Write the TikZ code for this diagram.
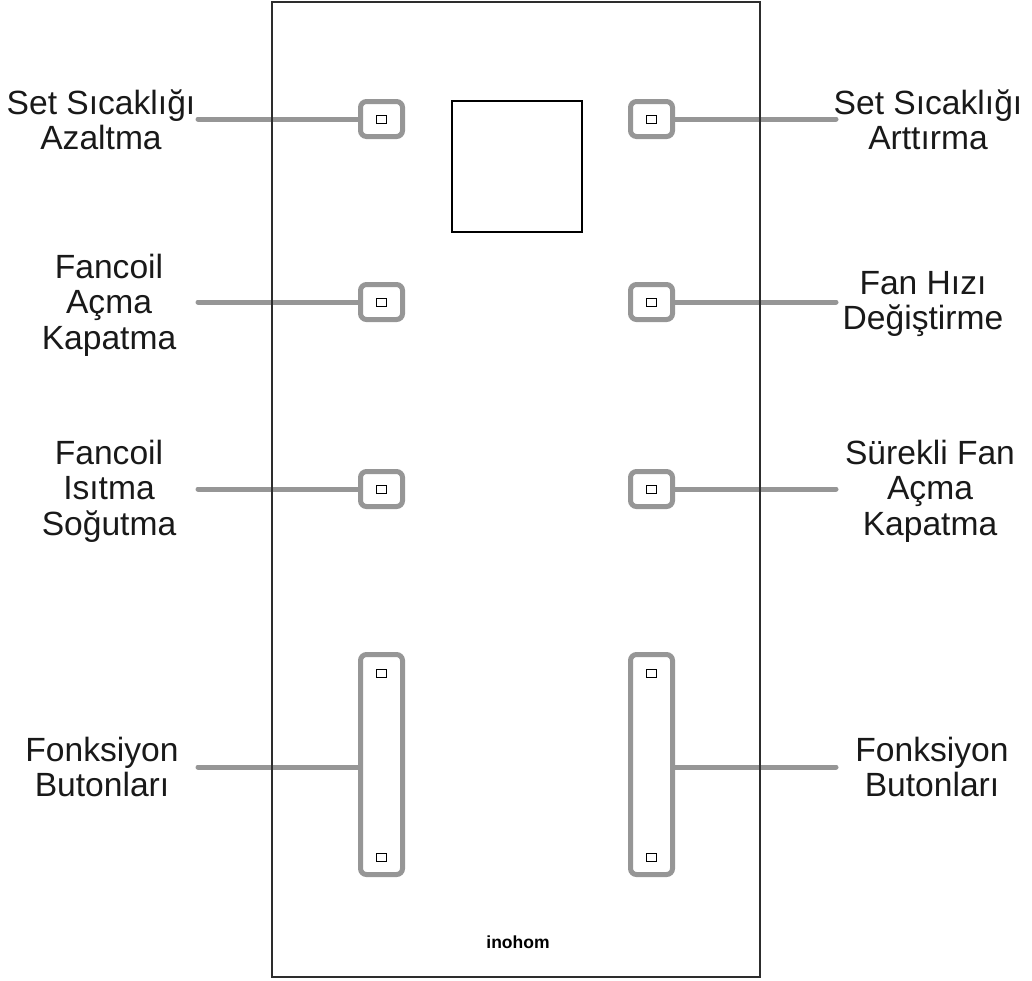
\documentclass[tikz,border=0pt]{standalone}
\usepackage{fontspec}
\setmainfont{Liberation Sans}
\definecolor{btngray}{RGB}{150,150,150}
\definecolor{framegray}{RGB}{45,45,45}
\begin{document}
\begin{tikzpicture}[x=1pt,y=-1pt,
  lbl/.style={align=center,font=\fontsize{33.6}{35.5}\selectfont,inner sep=0pt,text=black!90},
  btn/.style={draw=btngray,line width=5pt,rounded corners=6pt,minimum width=42pt,minimum height=35pt,inner sep=0pt,fill=white},
  tallbtn/.style={btn,minimum height=220pt},
  led/.style={draw=black,line width=1pt,minimum width=10pt,minimum height=8pt,inner sep=0pt},
  conn/.style={draw=btngray,line width=5pt,line cap=round}]
\useasboundingbox (0,0) rectangle (1032,980);
\node[draw=black,line width=1.5pt,minimum width=130pt,minimum height=131pt,inner sep=0pt] (screen) at (517,166.5) {};
% left buttons
\node[btn] (bl1) at (381.5,119) {};
\node[btn] (bl2) at (381.5,302) {};
\node[btn] (bl3) at (381.5,489) {};
\node[tallbtn] (bl4) at (381.5,764.5) {};
% right buttons
\node[btn] (br1) at (651.5,119) {};
\node[btn] (br2) at (651.5,302) {};
\node[btn] (br3) at (651.5,489) {};
\node[tallbtn] (br4) at (651.5,764.5) {};
% leds
\node[led] (dl1) at (bl1) {};
\node[led] (dl2) at (bl2) {};
\node[led] (dl3) at (bl3) {};
\node[led] (dl4a) at (381.5,673) {};
\node[led] (dl4b) at (381.5,857) {};
\node[led] (dr1) at (br1) {};
\node[led] (dr2) at (br2) {};
\node[led] (dr3) at (br3) {};
\node[led] (dr4a) at (651.5,673) {};
\node[led] (dr4b) at (651.5,857) {};
% labels
\node[lbl] (tl1) at (101,120) {Set Sıcaklığı\\Azaltma};
\node[lbl] (tl2) at (109,305) {Fancoil\\Açma\\Kapatma};
\node[lbl] (tl3) at (109,491) {Fancoil\\Isıtma\\Soğutma};
\node[lbl] (tl4) at (102,767) {Fonksiyon\\Butonları};
\node[lbl] (tr1) at (928,120) {Set Sıcaklığı\\Arttırma};
\node[lbl] (tr2) at (923,304) {Fan Hızı\\Değiştirme};
\node[lbl] (tr3) at (930,491) {Sürekli Fan\\Açma\\Kapatma};
\node[lbl] (tr4) at (932,767) {Fonksiyon\\Butonları};
% connector ends
\coordinate (cl1) at (198,119);
\coordinate (cl2) at (198,302);
\coordinate (cl3) at (198,489);
\coordinate (cl4) at (198,767);
\coordinate (cr1) at (836,119);
\coordinate (cr2) at (836,302);
\coordinate (cr3) at (836,489);
\coordinate (cr4) at (836,767);
\draw[conn] (cl1) -- (bl1.west);
\draw[conn] (cl2) -- (bl2.west);
\draw[conn] (cl3) -- (bl3.west);
\draw[conn] (cl4) -- (cl4 -| bl4.west);
\draw[conn] (br1.east) -- (cr1);
\draw[conn] (br2.east) -- (cr2);
\draw[conn] (br3.east) -- (cr3);
\draw[conn] (cr4 -| br4.east) -- (cr4);
\node[draw=framegray,line width=2pt,minimum width=488pt,minimum height=975pt,inner sep=0pt] (frame) at (516,489.5) {};
\node[font=\bfseries\fontsize{17.5}{20}\selectfont,inner sep=0pt] (logo) at (518,942) {inohom};
\end{tikzpicture}
\end{document}
